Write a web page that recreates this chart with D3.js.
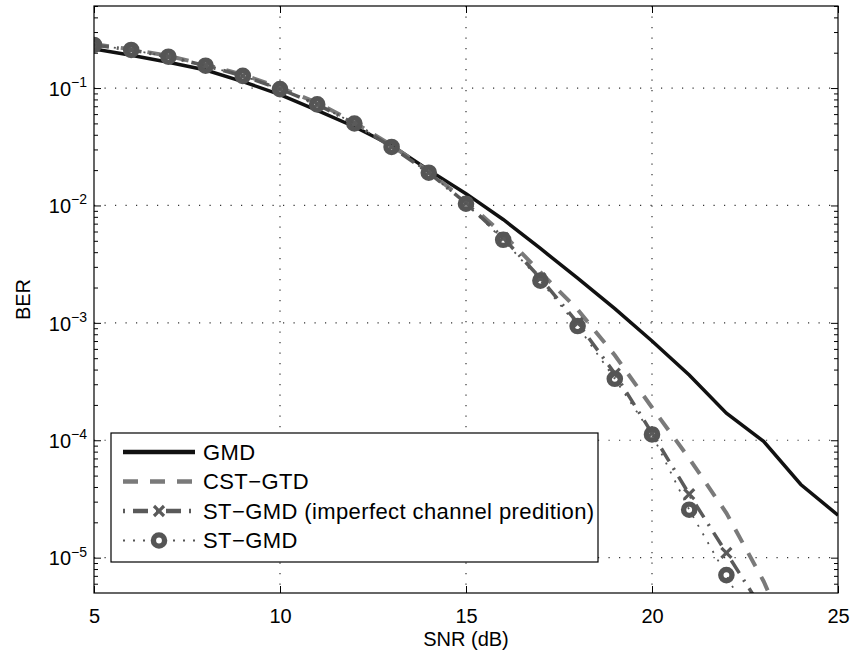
<!DOCTYPE html>
<html>
<head>
<meta charset="utf-8">
<script src="https://cdn.jsdelivr.net/npm/d3@7"></script>
<style>
  body { margin: 0; background: #fff; }
  svg { display: block; font-family: "Liberation Sans", Arial, Helvetica, sans-serif; }
  .axis path { display: none; }
  .axis line { stroke: #000; stroke-width: 1; }
  .axis text { font-size: 20px; fill: #000; }
</style>
</head>
<body>
<script>
"use strict";

///////////////////
// data
///////////////////
var snrGMD = [5, 6, 7, 8, 9, 10, 11, 12, 13, 14, 15, 16, 17, 18, 19, 20, 21, 22, 23, 24, 25];
var berGMD = [0.215, 0.19, 0.166, 0.1425, 0.1135, 0.088, 0.0646, 0.0468, 0.0324, 0.02, 0.0126,
              0.0076, 0.0043, 0.0024, 0.00132, 7.0e-4, 3.6e-4, 1.7e-4, 9.8e-5, 4.2e-5, 2.3e-5];

var snrCST = [5, 6, 7, 8, 9, 10, 11, 12, 13, 14, 15, 16, 17, 18, 19, 20, 21, 22, 23, 24];
var berCST = [0.236, 0.214, 0.188, 0.158, 0.13, 0.101, 0.075, 0.051, 0.0325, 0.0195, 0.0108,
              0.0057, 0.0027, 0.0013, 5.3e-4, 1.9e-4, 7.0e-5, 2.4e-5, 6.3e-6, 1.2e-6];

var snrImp = [5, 6, 7, 8, 9, 10, 11, 12, 13, 14, 15, 16, 17, 18, 19, 20, 21, 22, 23];
var berImp = [0.233, 0.211, 0.185, 0.155, 0.127, 0.098, 0.0726, 0.0499, 0.0315, 0.019, 0.0105,
              0.0053, 0.0024, 0.00100, 3.7e-4, 1.15e-4, 3.47e-5, 1.1e-5, 3.5e-6];

var snrST = [5, 6, 7, 8, 9, 10, 11, 12, 13, 14, 15, 16, 17, 18, 19, 20, 21, 22, 23];
var berST = [0.233, 0.211, 0.185, 0.155, 0.127, 0.098, 0.0726, 0.0499, 0.0315, 0.019, 0.01035,
             0.0051, 0.00229, 9.4e-4, 3.34e-4, 1.12e-4, 2.56e-5, 7.1e-6, 1.8e-6];

var xTicks = [5, 10, 15, 20, 25];
var yTicks = [1e-5, 1e-4, 1e-3, 1e-2, 1e-1];
var yExponents = ["−5", "−4", "−3", "−2", "−1"];
var legendLabels = ["GMD", "CST−GTD", "ST−GMD (imperfect channel predition)", "ST−GMD"];

///////////////////
// layout
///////////////////
var W = 854, H = 655;
var margin = { left: 94, top: 6, right: 16, bottom: 62 };
var pw = W - margin.left - margin.right;
var ph = H - margin.top - margin.bottom;

var x = d3.scaleLinear().domain([5, 25]).range([0, pw]);
var y = d3.scaleLog().domain([5e-6, 0.5]).range([ph, 0]);

function zip(xs, ys) {
    return xs.map(function(d, i) { return [d, ys[i]]; });
}

// legend dash offsets make the sample start like the reference
var series = [
    { name: legendLabels[0], pts: zip(snrGMD, berGMD), color: "#111", width: 3.5, dash: null, offset: 0, marker: null },
    { name: legendLabels[1], pts: zip(snrCST, berCST), color: "#7a7a7a", width: 4, dash: "15,12", offset: 0, marker: null },
    { name: legendLabels[2], pts: zip(snrImp, berImp), color: "#5a5a5a", width: 3.5, dash: "15,8,2,8", offset: 23, marker: "x" },
    { name: legendLabels[3], pts: zip(snrST, berST), color: "#555", width: 1.8, dash: "2,8", offset: 0, marker: "o" }
];

var svg = d3.select("body").append("svg")
    .attr("width", W)
    .attr("height", H);

svg.append("defs").append("clipPath").attr("id", "plotclip")
    .append("rect").attr("width", pw).attr("height", ph);

var g = svg.append("g").attr("transform", "translate(" + margin.left + "," + margin.top + ")");

// grid (dotted, major ticks only)
var grid = g.append("g").attr("class", "grid")
    .attr("stroke", "#333").attr("stroke-width", 1.2).attr("stroke-dasharray", "1.2,9.3");
grid.selectAll("line.gx").data(xTicks.slice(1, -1)).enter().append("line")
    .attr("x1", x).attr("x2", x).attr("y1", 0).attr("y2", ph);
grid.selectAll("line.gy").data(yTicks).enter().append("line")
    .attr("y1", y).attr("y2", y).attr("x1", 0).attr("x2", pw);

// minor ticks on log axis
var minor = [];
[-6, -5, -4, -3, -2, -1].forEach(function(e) {
    for (var k = 2; k <= 9; k++) {
        var v = k * Math.pow(10, e);
        if (v >= 5e-6 && v <= 0.5) minor.push(v);
    }
});

g.append("g").attr("class", "axis")
    .call(d3.axisLeft(y).tickValues(minor).tickSize(-4).tickFormat(""));
g.append("g").attr("class", "axis")
    .attr("transform", "translate(" + pw + ",0)")
    .call(d3.axisRight(y).tickValues(minor).tickSize(-4).tickFormat(""));

// major ticks
var yAxis = g.append("g").attr("class", "axis")
    .call(d3.axisLeft(y).tickValues(yTicks).tickSize(-7).tickPadding(8).tickFormat(""));
yAxis.selectAll(".tick text").each(function(d, i) {
    var t = d3.select(this).attr("x", -7).attr("dy", "0.36em").style("text-anchor", "end");
    t.append("tspan").text("10");
    t.append("tspan").attr("dy", "-0.62em").style("font-size", "14px").text(yExponents[i]);
});
g.append("g").attr("class", "axis")
    .attr("transform", "translate(" + pw + ",0)")
    .call(d3.axisRight(y).tickValues(yTicks).tickSize(-7).tickFormat(""));

g.append("g").attr("class", "axis")
    .attr("transform", "translate(0," + ph + ")")
    .call(d3.axisBottom(x).tickValues(xTicks).tickSize(-7).tickPadding(16).tickFormat(d3.format("d")));
g.append("g").attr("class", "axis")
    .call(d3.axisTop(x).tickValues(xTicks).tickSize(-7).tickFormat(""));

// lines
var line = d3.line()
    .x(function(d) { return x(d[0]); })
    .y(function(d) { return y(d[1]); });

var plot = g.append("g").attr("clip-path", "url(#plotclip)");

function drawMarker(sel, type, color) {
    if (type === "x") {
        sel.append("path")
            .attr("d", "M-5,-5L5,5M-5,5L5,-5")
            .attr("stroke", color).attr("stroke-width", 3.2).attr("fill", "none");
    } else if (type === "o") {
        sel.append("circle")
            .attr("r", 5.6)
            .attr("stroke", color).attr("stroke-width", 5.4).attr("fill", "none");
    }
}

series.forEach(function(s) {
    plot.append("path")
        .datum(s.pts)
        .attr("d", line)
        .attr("fill", "none")
        .attr("stroke", s.color)
        .attr("stroke-width", s.width)
        .attr("stroke-dasharray", s.dash);
    if (s.marker) {
        plot.selectAll(null)
            .data(s.pts)
            .enter()
            .append("g")
            .attr("transform", function(d) { return "translate(" + x(d[0]) + "," + y(d[1]) + ")"; })
            .each(function() { drawMarker(d3.select(this), s.marker, s.color); });
    }
});

// frame
g.append("rect")
    .attr("width", pw).attr("height", ph)
    .attr("fill", "none").attr("stroke", "#000").attr("stroke-width", 1.2);

// axis titles
g.append("text")
    .attr("x", pw / 2).attr("y", ph + 53)
    .attr("text-anchor", "middle")
    .style("font-size", "20px")
    .text("SNR (dB)");
g.append("text")
    .attr("transform", "translate(" + (-64) + "," + (ph / 2) + ") rotate(-90)")
    .attr("text-anchor", "middle")
    .style("font-size", "20px")
    .text("BER");

// legend
var lg = svg.append("g").attr("transform", "translate(111,433)");
lg.append("rect")
    .attr("width", 487).attr("height", 129)
    .attr("fill", "#fff").attr("stroke", "#000").attr("stroke-width", 1.2);

var rows = lg.selectAll("g.row")
    .data(series)
    .enter()
    .append("g")
    .attr("class", "row")
    .attr("transform", function(d, i) { return "translate(0," + (19 + i * 29.5) + ")"; });

rows.append("line")
    .attr("x1", 12).attr("x2", 84)
    .attr("stroke", function(d) { return d.color; })
    .attr("stroke-width", function(d) { return d.marker === "o" ? 2 : 4.5; })
    .attr("stroke-dasharray", function(d) { return d.dash; })
    .attr("stroke-dashoffset", function(d) { return d.offset; });
rows.each(function(d) {
    if (d.marker) {
        var m = d3.select(this).append("g").attr("transform", "translate(48,0)");
        drawMarker(m, d.marker, d.color);
    }
});
rows.append("text")
    .attr("x", 92).attr("dy", "0.36em")
    .style("font-size", "22px")
    .style("letter-spacing", "0.4px")
    .text(function(d) { return d.name; });
</script>
</body>
</html>
